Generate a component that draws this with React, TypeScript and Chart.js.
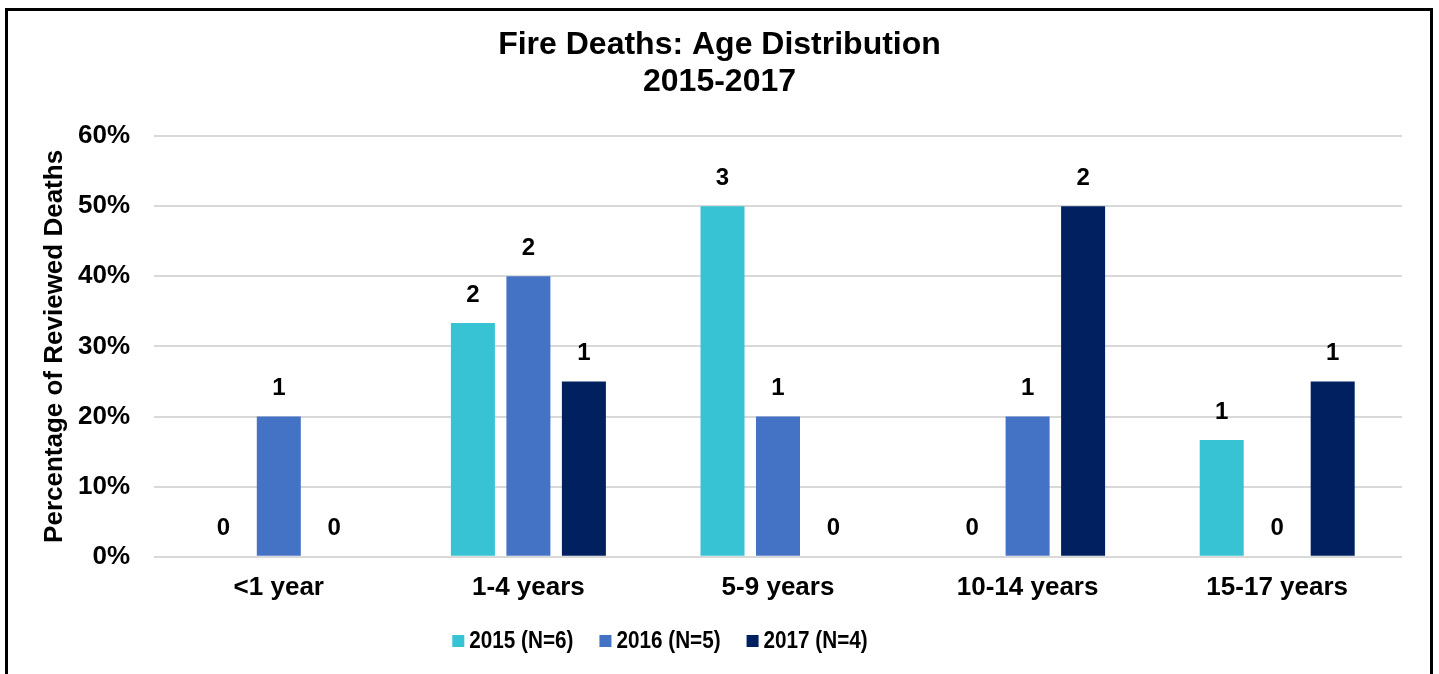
import React, { useEffect, useRef } from "react";
import { Chart, registerables } from "chart.js";

Chart.register(...registerables);

const categories = ["<1 year", "1-4 years", "5-9 years", "10-14 years", "15-17 years"];
const seriesNames = ["2015 (N=6)", "2016 (N=5)", "2017 (N=4)"];
const pct2015 = [0, 33.33, 50, 0, 16.67];
const pct2016 = [20, 40, 20, 20, 0];
const pct2017 = [0, 25, 0, 50, 25];
const count2015 = [0, 2, 3, 0, 1];
const count2016 = [1, 2, 1, 1, 0];
const count2017 = [0, 1, 0, 2, 1];
const colors = ["#37C3D4", "#4472C4", "#002060"];
const titleLines = ["Fire Deaths: Age Distribution", "2015-2017"];
const yAxisTitle = "Percentage of Reviewed Deaths";

const FONT = "'Liberation Sans', Arial, sans-serif";

const extrasPlugin = {
  id: "extras",
  afterDatasetsDraw(chart: any) {
    const ctx = chart.ctx;
    ctx.save();
    ctx.fillStyle = "#000";
    ctx.font = `bold 24px ${FONT}`;
    ctx.textAlign = "center";
    ctx.textBaseline = "middle";
    chart.data.datasets.forEach((ds: any, di: number) => {
      const meta = chart.getDatasetMeta(di);
      meta.data.forEach((bar: any, i: number) => {
        const c = ds.counts[i];
        ctx.fillText(String(c), bar.x, bar.y - 28);
      });
    });
    ctx.restore();
  },
  afterDraw(chart: any) {
    const ctx = chart.ctx;
    ctx.save();
    // title
    ctx.fillStyle = "#000";
    ctx.font = `bold 32px ${FONT}`;
    ctx.textAlign = "center";
    ctx.textBaseline = "middle";
    titleLines.forEach((t, i) => ctx.fillText(t, chart.width / 2, 45 + i * 37));
    // legend
    ctx.font = `bold 23px ${FONT}`;
    ctx.textBaseline = "middle";
    ctx.textAlign = "left";
    const sx = 0.9;
    const box = 12;
    const gapBoxText = 5;
    const gapItems = 26;
    const items = chart.data.datasets.map((ds: any) => ({
      label: ds.label,
      color: ds.backgroundColor,
      tw: ctx.measureText(ds.label).width * sx,
    }));
    const total =
      items.reduce((s: number, it: any) => s + box + gapBoxText + it.tw, 0) + gapItems * (items.length - 1);
    let x = 660 - total / 2;
    const cy = 641;
    items.forEach((it: any) => {
      ctx.fillStyle = it.color;
      ctx.fillRect(x, cy - box / 2, box, box);
      ctx.fillStyle = "#000";
      ctx.save();
      ctx.translate(x + box + gapBoxText, cy + 1);
      ctx.scale(sx, 1);
      ctx.fillText(it.label, 0, 0);
      ctx.restore();
      x += box + gapBoxText + it.tw + gapItems;
    });
    // outer border
    ctx.strokeStyle = "#000";
    ctx.lineWidth = 3;
    ctx.strokeRect(6.5, 9.5, 1425, 700);
    ctx.restore();
  },
};

export default function App() {
  const ref = useRef<HTMLCanvasElement>(null);
  useEffect(() => {
    document.body.style.margin = "0";
    const data = {
      labels: categories,
      datasets: [
        { label: seriesNames[0], data: pct2015, counts: count2015, backgroundColor: colors[0] },
        { label: seriesNames[1], data: pct2016, counts: count2016, backgroundColor: colors[1] },
        { label: seriesNames[2], data: pct2017, counts: count2017, backgroundColor: colors[2] },
      ],
    };
    const chart = new Chart(ref.current!, {
      type: "bar",
      data: data as any,
      plugins: [extrasPlugin],
      options: {
        animation: false,
        responsive: false,
        devicePixelRatio: 1,
        datasets: { bar: { categoryPercentage: 0.667, barPercentage: 0.793 } },
        layout: { padding: { left: 0, right: 37, top: 136, bottom: 56 } },
        plugins: {
          legend: { display: false },
          tooltip: { enabled: false },
          title: { display: false },
        },
        scales: {
          x: {
            grid: { display: false, drawTicks: false },
            border: { display: false },
            ticks: { color: "#000", padding: 15, font: { family: FONT, size: 26, weight: "bold" } },
          },
          y: {
            min: 0,
            max: 60,
            afterFit(scale: any) {
              scale.width = 154;
            },
            grid: { color: "#d9d9d9", lineWidth: 2, drawTicks: false },
            border: { display: false },
            ticks: {
              stepSize: 10,
              color: "#000",
              padding: 24,
              font: { family: FONT, size: 26, weight: "bold" },
              callback: (v: any) => `${v}%`,
            },
            title: {
              display: true,
              text: yAxisTitle,
              color: "#000",
              font: { family: FONT, size: 26, weight: "bold" },
              padding: { top: 39, bottom: 0 },
            },
          },
        },
      } as any,
    });
    return () => chart.destroy();
  }, []);
  return (
    <div style={{ width: 1439, height: 674 }}>
      <canvas ref={ref} width={1439} height={674} style={{ display: "block" }} />
    </div>
  );
}
